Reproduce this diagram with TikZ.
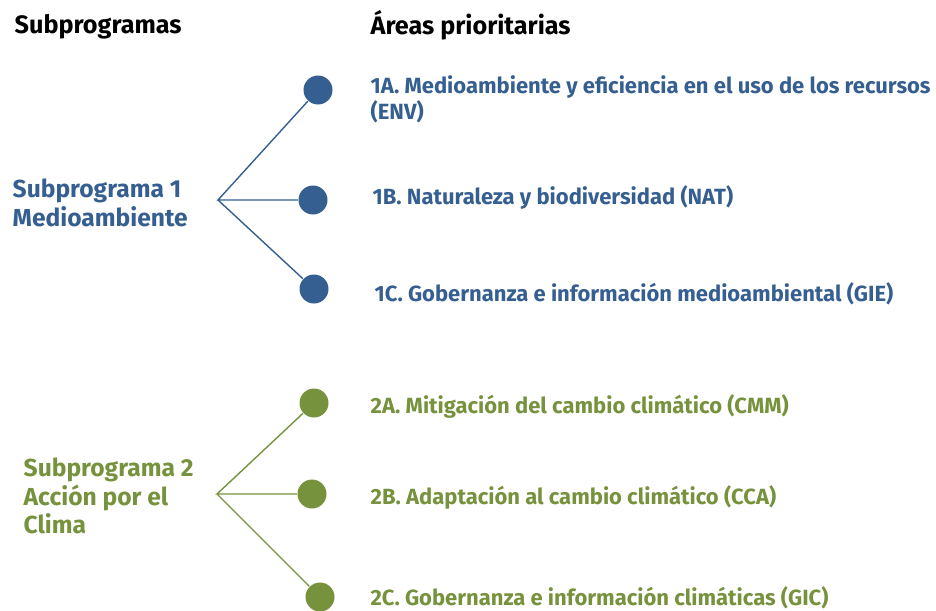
\documentclass[tikz,border=0pt]{standalone}
\usepackage{fontspec}
\setmainfont{Fira Sans}
\usetikzlibrary{positioning,calc}
\definecolor{progblue}{HTML}{365F91}
\definecolor{proggreen}{HTML}{76923C}

\begin{document}
\begin{tikzpicture}[x=1pt, y=-1pt, line width=1.4pt,
                dot/.style={circle, inner sep=0pt, minimum size=29pt},
                head/.style={anchor=west, inner sep=0pt, font=\fontsize{25.2}{29}\selectfont\bfseries},
                area/.style={anchor=west, inner sep=0pt, align=left, font=\fontsize{22}{26}\selectfont\bfseries},
                prog/.style={anchor=west, inner sep=0pt, align=left, font=\fontsize{24.6}{28.5}\selectfont\bfseries}
            ]
\useasboundingbox (0,0) rectangle (936,610);

% --- headings ---
                \node[head] (hsub)  at (14,27)  {Subprogramas};
                \node[head] (harea) at (370,25) {Áreas prioritarias};

% --- subprograma 1 ---
                \coordinate (J1) at (218,200);     % junction of the fan
                \node[dot, fill=progblue] (d1a) at (318,90)  {};
                \node[dot, fill=progblue] (d1b) at (313,200) {};
                \node[dot, fill=progblue] (d1c) at (314,289) {};

                \node[prog, text=progblue] (p1) at (12,203) {Subprograma 1\\Medioambiente};
                \node[area, text=progblue] (a1a) at (370,99)  {1A. Medioambiente y eficiencia en el uso de los recursos\\(ENV)};
                \node[area, text=progblue] (a1b) at (372,197) {1B. Naturaleza y biodiversidad (NAT)};
                \node[area, text=progblue] (a1c) at (374,294) {1C. Gobernanza e información medioambiental (GIE)};

                \draw[progblue] (d1a)--(J1)--(d1b);
                \draw[progblue] (J1)--(d1c);

% --- subprograma 2 ---
                \coordinate (J2) at (217,494);     % junction of the fan
                \node[dot, fill=proggreen] (d2a) at (314,403) {};
                \node[dot, fill=proggreen] (d2b) at (312,494) {};
                \node[dot, fill=proggreen] (d2c) at (320,597) {};

                \node[prog, text=proggreen] (p2) at (23,496) {Subprograma 2\\Acción por el\\Clima};
                \node[area, text=proggreen] (a2a) at (370,406) {2A. Mitigación del cambio climático (CMM)};
                \node[area, text=proggreen] (a2b) at (370,497) {2B. Adaptación al cambio climático (CCA)};
                \node[area, text=proggreen] (a2c) at (370,598) {2C. Gobernanza e información climáticas (GIC)};

                \draw[proggreen] (d2a)--(J2)--(d2b);
                \draw[proggreen] (J2)--(d2c);

            \end{tikzpicture}
\end{document}
